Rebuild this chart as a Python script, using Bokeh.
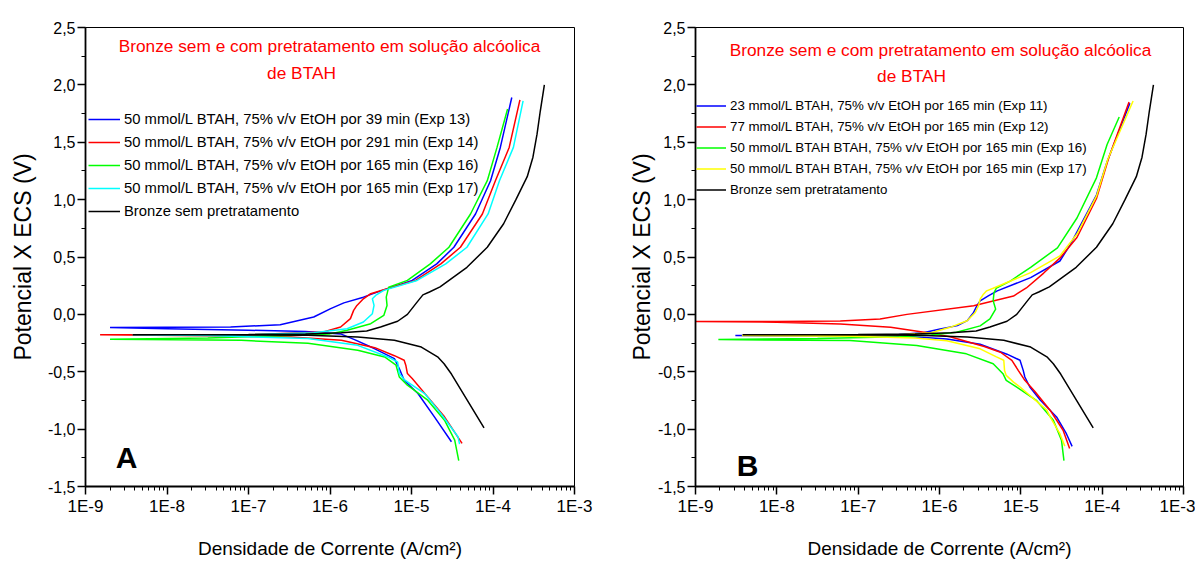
from bokeh.plotting import figure
from bokeh.layouts import row
from bokeh.models import (Range1d, FixedTicker, CustomJSTickFormatter, Legend,
                          LegendItem, Label)
from bokeh.embed import file_html
from bokeh.resources import INLINE

FONT = "Liberation Sans"

# ---------------- data (current density A/cm2, potential V vs ECS) ----------------
# Bronze sem pretratamento (both panels)
i_bronze = [7.76e-5, 3.09e-5, 2.51e-5, 2.09e-5, 1.32e-5, 6.17e-6, 2.19e-6, 5.37e-7, 3.16e-8, 3.80e-9,
            1.0e-7, 5.01e-7, 1.38e-6, 2.82e-6, 4.17e-6, 6.76e-6, 8.91e-6, 1.17e-5, 1.38e-5, 1.66e-5,
            2.24e-5, 4.79e-5, 8.51e-5, 1.35e-4, 1.91e-4, 2.63e-4, 3.09e-4, 3.47e-4, 3.80e-4, 4.27e-4]
e_bronze = [-0.99, -0.52, -0.43, -0.37, -0.285, -0.226, -0.197, -0.183, -0.178, -0.177,
            -0.176, -0.172, -0.160, -0.145, -0.11, -0.06, 0.0, 0.107, 0.17, 0.195,
            0.24, 0.41, 0.585, 0.79, 1.0, 1.2, 1.37, 1.57, 1.77, 2.0]

# Panel A
i_exp13 = [3.09e-5, 1.91e-5, 1.20e-5, 8.13e-6, 7.08e-6, 6.17e-6, 3.55e-6, 2.0e-6, 1.35e-6, 5.01e-7,
           1.0e-7, 1.0e-8, 2.0e-9, 1.0e-8, 6.03e-8, 2.45e-7, 6.31e-7, 1.02e-6, 1.48e-6, 2.57e-6,
           3.80e-6, 1.02e-5, 2.04e-5, 3.31e-5, 6.10e-5, 9.33e-5, 1.23e-4, 1.70e-4]
e_exp13 = [-1.11, -0.893, -0.69, -0.574, -0.472, -0.385, -0.30, -0.22, -0.17, -0.15,
           -0.138, -0.125, -0.115, -0.112, -0.11, -0.09, -0.023, 0.05, 0.10, 0.15,
           0.194, 0.296, 0.44, 0.585, 0.875, 1.165, 1.455, 1.89]

i_exp14 = [4.17e-5, 2.54e-5, 1.58e-5, 1.02e-5, 8.91e-6, 8.51e-6, 8.13e-6, 6.17e-6, 3.55e-6, 1.38e-6,
           3.31e-7, 3.16e-8, 1.51e-9, 1.0e-7, 8.32e-7, 1.35e-6, 1.78e-6, 1.95e-6, 2.14e-6, 2.57e-6,
           3.16e-6, 5.62e-6, 1.12e-5, 2.29e-5, 3.98e-5, 7.41e-5, 1.07e-4, 1.58e-4, 2.14e-4]
e_exp14 = [-1.124, -0.893, -0.719, -0.559, -0.516, -0.443, -0.40, -0.36, -0.29, -0.226,
           -0.197, -0.186, -0.177, -0.177, -0.154, -0.11, -0.037, 0.035, 0.078, 0.136,
           0.18, 0.235, 0.296, 0.44, 0.585, 0.875, 1.165, 1.455, 1.87]

i_exp16a = [3.80e-5, 3.39e-5, 2.54e-5, 1.58e-5, 8.91e-6, 7.08e-6, 6.46e-6, 4.68e-6, 2.19e-6, 5.37e-7,
            8.13e-8, 2.0e-9, 3.16e-8, 3.16e-7, 1.0e-6, 1.62e-6, 3.16e-6, 4.57e-6, 5.01e-6, 4.90e-6,
            5.25e-6, 8.91e-6, 1.70e-5, 2.88e-5, 5.30e-5, 8.51e-5, 1.12e-4, 1.51e-4]
e_exp16a = [-1.275, -1.096, -0.922, -0.748, -0.617, -0.545, -0.443, -0.371, -0.313, -0.252,
            -0.226, -0.217, -0.205, -0.185, -0.17, -0.139, -0.081, -0.009, 0.078, 0.15,
            0.237, 0.296, 0.44, 0.585, 0.875, 1.165, 1.455, 1.79]

i_exp17a = [3.89e-5, 3.72e-5, 2.29e-5, 1.45e-5, 8.13e-6, 7.08e-6, 6.76e-6, 5.13e-6, 2.19e-6, 5.37e-7,
            3.16e-8, 3.80e-9, 1.0e-7, 6.31e-7, 1.62e-6, 2.57e-6, 3.31e-6, 3.47e-6, 3.31e-6, 3.63e-6,
            4.57e-6, 1.17e-5, 2.63e-5, 4.79e-5, 8.71e-5, 1.20e-4, 1.78e-4, 2.34e-4]
e_exp17a = [-1.13, -1.066, -0.864, -0.69, -0.568, -0.516, -0.415, -0.371, -0.27, -0.21,
            -0.185, -0.177, -0.177, -0.16, -0.125, -0.067, 0.006, 0.078, 0.136, 0.165,
            0.209, 0.296, 0.44, 0.585, 0.875, 1.165, 1.455, 1.86]

# Panel B
i_exp11 = [4.27e-5, 3.63e-5, 2.75e-5, 1.74e-5, 1.29e-5, 1.12e-5, 1.07e-5, 9.77e-6, 6.76e-6, 3.16e-6,
           1.23e-6, 4.79e-7, 7.94e-8, 3.09e-9, 3.16e-8, 3.16e-7, 6.31e-7, 1.02e-6, 1.66e-6, 2.19e-6,
           2.63e-6, 2.88e-6, 3.16e-6, 3.98e-6, 5.13e-6, 1.32e-5, 3.02e-5, 4.07e-5, 8.51e-5, 1.15e-4,
           2.19e-4]
e_exp11 = [-1.15, -1.04, -0.894, -0.749, -0.633, -0.546, -0.488, -0.40, -0.347, -0.26,
           -0.214, -0.194, -0.188, -0.185, -0.183, -0.175, -0.16, -0.127, -0.098, -0.055,
           0.017, 0.075, 0.118, 0.162, 0.205, 0.32, 0.465, 0.61, 1.04, 1.33,
           1.84]

i_exp12 = [3.98e-5, 3.31e-5, 2.29e-5, 1.48e-5, 1.12e-5, 9.33e-6, 7.76e-6, 5.62e-6, 3.55e-6, 1.35e-6,
           6.46e-7, 2.51e-7, 6.03e-8, 1.0e-8, 1.0e-9, 1.0e-8, 6.03e-8, 1.86e-7, 3.98e-7, 2.63e-6,
           8.13e-6, 1.17e-5, 1.91e-5, 3.02e-5, 4.90e-5, 8.51e-5, 1.20e-4, 2.14e-4]
e_exp12 = [-1.168, -1.01, -0.835, -0.67, -0.575, -0.49, -0.40, -0.33, -0.28, -0.195,
           -0.155, -0.113, -0.084, -0.068, -0.063, -0.062, -0.058, -0.04, 0.0, 0.075,
           0.16, 0.23, 0.36, 0.49, 0.67, 1.01, 1.36, 1.85]

i_exp16b = [3.39e-5, 3.16e-5, 2.51e-5, 1.55e-5, 8.91e-6, 6.61e-6, 6.03e-6, 4.57e-6, 2.14e-6, 5.25e-7,
            7.94e-8, 1.91e-9, 3.16e-8, 3.16e-7, 7.94e-7, 1.62e-6, 3.16e-6, 4.17e-6, 4.90e-6, 4.57e-6,
            4.68e-6, 5.01e-6, 7.41e-6, 1.32e-5, 2.82e-5, 4.90e-5, 8.51e-5, 1.15e-4, 1.62e-4]
e_exp16b = [-1.275, -1.096, -0.922, -0.749, -0.633, -0.575, -0.517, -0.43, -0.344, -0.272,
            -0.228, -0.22, -0.21, -0.195, -0.18, -0.156, -0.10, -0.04, 0.046, 0.119,
            0.19, 0.23, 0.29, 0.41, 0.58, 0.84, 1.19, 1.48, 1.72]

i_exp17b = [3.47e-5, 3.02e-5, 2.29e-5, 2.09e-5, 9.77e-6, 8.13e-6, 6.61e-6, 6.31e-6, 6.17e-6, 5.01e-6,
            3.16e-6, 1.23e-6, 5.01e-7, 7.94e-8, 3.72e-9, 3.16e-8, 3.16e-7, 7.94e-7, 1.35e-6, 2.19e-6,
            2.75e-6, 3.02e-6, 3.16e-6, 3.47e-6, 3.80e-6, 4.57e-6, 1.32e-5, 3.02e-5, 4.90e-5, 8.51e-5,
            1.17e-4, 2.40e-4]
e_exp17b = [-1.148, -1.04, -0.894, -0.835, -0.633, -0.59, -0.532, -0.49, -0.40, -0.37,
            -0.30, -0.23, -0.205, -0.19, -0.185, -0.183, -0.178, -0.16, -0.113, -0.055,
            0.017, 0.075, 0.133, 0.176, 0.205, 0.228, 0.364, 0.51, 0.70, 1.03,
            1.35, 1.86]

labels_a = ["50 mmol/L BTAH, 75% v/v EtOH por 39 min (Exp 13)",
            "50 mmol/L BTAH, 75% v/v EtOH por 291 min (Exp 14)",
            "50 mmol/L BTAH, 75% v/v EtOH por 165 min (Exp 16)",
            "50 mmol/L BTAH, 75% v/v EtOH por 165 min (Exp 17)",
            "Bronze sem pretratamento"]
labels_b = ["23 mmol/L BTAH, 75% v/v EtOH por 165 min (Exp 11)",
            "77 mmol/L BTAH, 75% v/v EtOH por 165 min (Exp 12)",
            "50 mmol/L BTAH BTAH, 75% v/v EtOH por 165 min (Exp 16)",
            "50 mmol/L BTAH BTAH, 75% v/v EtOH por 165 min (Exp 17)",
            "Bronze sem pretratamento"]
colors_a = ["#0000FF", "#FF0000", "#00FF00", "#00FFFF", "#000000"]
colors_b = ["#0000FF", "#FF0000", "#00FF00", "#FFFF00", "#000000"]

title_1 = "Bronze sem e com pretratamento em solução alcóolica"
title_2 = "de BTAH"
x_title = "Densidade de Corrente (A/cm²)"
y_title = "Potencial X ECS (V)"

decades = [-9, -8, -7, -6, -5, -4, -3]
x_major = [10.0 ** d for d in decades]
x_minor = [m * 10.0 ** d for d in decades[:-1] for m in range(2, 10)]
y_major = [-1.5, -1.0, -0.5, 0.0, 0.5, 1.0, 1.5, 2.0, 2.5]
y_minor = [-1.25, -0.75, -0.25, 0.25, 0.75, 1.25, 1.75, 2.25]


def make_panel(series, labels, colors, width, height, borders, ylab_standoff, xlab_standoff,
               leg_loc, leg_font, leg_row, leg_glyph_w, t1, t2, letter, letter_pos):
    left, right, top, bottom = borders
    p = figure(width=width, height=height, x_axis_type="log",
               x_range=Range1d(1e-9, 1e-3), y_range=Range1d(-1.5, 2.5),
               output_backend="svg", toolbar_location=None,
               min_border_left=left, min_border_right=right,
               min_border_top=top, min_border_bottom=bottom)
    p.xgrid.visible = False
    p.ygrid.visible = False
    p.outline_line_color = "black"
    p.outline_line_alpha = 1.0
    p.outline_line_width = 1
    p.background_fill_color = "white"
    p.border_fill_color = "white"

    xa = p.xaxis[0]
    xa.ticker = FixedTicker(ticks=x_major, minor_ticks=x_minor)
    xa.formatter = CustomJSTickFormatter(code="return '1E' + Math.round(Math.log10(tick));")
    ya = p.yaxis[0]
    ya.ticker = FixedTicker(ticks=y_major, minor_ticks=y_minor)
    ya.formatter = CustomJSTickFormatter(code="return tick.toFixed(1).replace('.', ',');")
    for ax in (xa, ya):
        ax.axis_line_width = 1.8
        ax.axis_line_color = "black"
        ax.major_tick_line_color = "black"
        ax.minor_tick_line_color = "black"
        ax.major_tick_line_width = 1.5
        ax.minor_tick_line_width = 1
        ax.major_tick_out = 8
        ax.major_tick_in = 0
        ax.minor_tick_out = 4
        ax.minor_tick_in = 0
        ax.major_label_standoff = 2
        ax.major_label_text_color = "black"
        ax.major_label_text_font = FONT
        ax.major_label_text_font_size = "16px"
        ax.axis_label_text_color = "black"
        ax.axis_label_text_font = FONT
        ax.axis_label_text_font_style = "normal"
    xa.major_label_text_font_size = "17px"
    xa.axis_label = x_title
    xa.axis_label_text_font_size = "19px"
    xa.axis_label_standoff = xlab_standoff
    ya.axis_label = y_title
    ya.axis_label_text_font_size = "23px"
    ya.axis_label_standoff = ylab_standoff

    items = []
    for (ix, ex), lab, col in zip(series, labels, colors):
        r = p.line(ix, ex, line_color=col, line_width=1.5)
        items.append(LegendItem(label=lab, renderers=[r]))

    leg = Legend(items=items, location=leg_loc, label_text_font=FONT,
                 label_text_font_size=leg_font, label_text_color="black",
                 glyph_width=leg_glyph_w, glyph_height=leg_row[0], label_height=leg_row[0],
                 spacing=leg_row[1], padding=0, margin=0, label_standoff=4,
                 border_line_color=None, background_fill_alpha=0)
    p.add_layout(leg)

    for (tx, ty), txt in ((t1, title_1), (t2, title_2)):
        p.add_layout(Label(x=tx, y=ty, x_units="screen", y_units="screen", text=txt,
                           text_font=FONT, text_font_size="17.3px", text_color="#FF0000",
                           text_align="center", text_baseline="middle"))
    p.add_layout(Label(x=letter_pos[0], y=letter_pos[1], x_units="screen", y_units="screen",
                       text=letter, text_font=FONT, text_font_size="30px", text_font_style="bold",
                       text_color="black", text_align="center", text_baseline="middle"))
    return p


series_a = [(i_exp13, e_exp13), (i_exp14, e_exp14), (i_exp16a, e_exp16a),
            (i_exp17a, e_exp17a), (i_bronze, e_bronze)]
series_b = [(i_exp11, e_exp11), (i_exp12, e_exp12), (i_exp16b, e_exp16b),
            (i_exp17b, e_exp17b), (i_bronze, e_bronze)]

# frames: A 85..574, B 695..1183 ; both 27..488 (canvas px)
pa = make_panel(series_a, labels_a, colors_a, 600, 561, (85, 26, 27, 73), 9, 19,
                (3, 265), "14.8px", (20, 3), 32, (244, 441), (216, 414), "A", (41, 29))
pb = make_panel(series_b, labels_b, colors_b, 595, 561, (95, 12, 27, 73), 0, 19,
                (1, 287), "13.3px", (19, 2), 30, (245, 437), (216, 411), "B", (52, 21))

layout = row(pa, pb)
open("out.html", "w").write(file_html(layout, INLINE))
